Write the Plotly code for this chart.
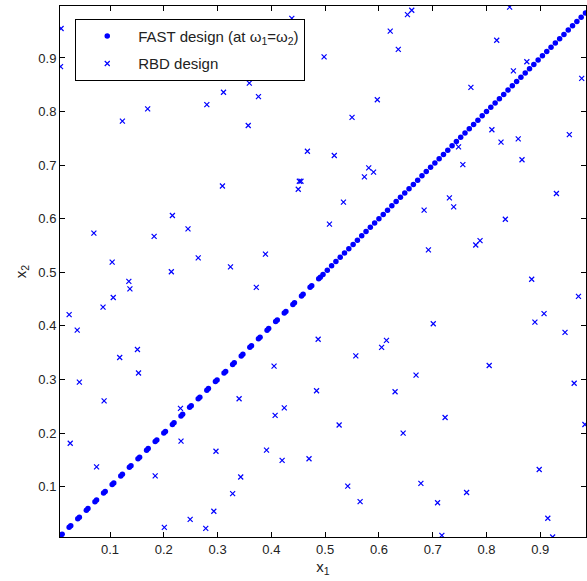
import plotly.graph_objects as go

# FAST design points (x1 = x2 since omega1 = omega2)
fast_x = [0.008, 0.011, 0.024, 0.027, 0.040, 0.043, 0.056, 0.059, 0.072, 0.075,
          0.088, 0.091, 0.104, 0.107, 0.120, 0.123, 0.136, 0.139, 0.152, 0.155,
          0.168, 0.171, 0.184, 0.187, 0.200, 0.203, 0.216, 0.219, 0.232, 0.235,
          0.248, 0.251, 0.264, 0.267, 0.280, 0.283, 0.296, 0.299, 0.312, 0.315,
          0.328, 0.331, 0.344, 0.347, 0.360, 0.363, 0.376, 0.379, 0.392, 0.395,
          0.408, 0.411, 0.424, 0.427, 0.440, 0.443, 0.456, 0.459, 0.472, 0.475,
          0.488, 0.491,
          0.496, 0.504, 0.512, 0.520, 0.528, 0.536, 0.544, 0.552, 0.560, 0.568,
          0.576, 0.584, 0.592, 0.600, 0.608, 0.616, 0.624, 0.632, 0.640, 0.648,
          0.656, 0.664, 0.672, 0.680, 0.688, 0.696, 0.704, 0.712, 0.720, 0.728,
          0.736, 0.744, 0.752, 0.760, 0.768, 0.776, 0.784, 0.792, 0.800, 0.808,
          0.816, 0.824, 0.832, 0.840, 0.848, 0.856, 0.864, 0.872, 0.880, 0.888,
          0.896, 0.904, 0.912, 0.920, 0.928, 0.936, 0.944, 0.952, 0.960, 0.968,
          0.976, 0.984]
fast_y = list(fast_x)

# RBD design points
rbd_x = [0.009, 0.008, 0.166, 0.123, 0.170, 0.280, 0.311, 0.359, 0.357, 0.376,
         0.438, 0.309, 0.450, 0.452, 0.070, 0.216, 0.245, 0.182, 0.104, 0.264,
         0.214, 0.324, 0.389, 0.135, 0.137, 0.372,
         0.106, 0.087, 0.024, 0.039, 0.043, 0.118, 0.151, 0.153, 0.089, 0.026,
         0.075, 0.184, 0.231, 0.232, 0.201, 0.249, 0.278, 0.293, 0.297, 0.328,
         0.343, 0.340, 0.391, 0.405, 0.407, 0.424, 0.420,
         0.653, 0.661, 0.843, 0.621, 0.636, 0.498, 0.819, 0.875, 0.850, 0.977,
         0.771, 0.597, 0.550, 0.810, 0.827, 0.859, 0.954, 0.748, 0.756, 0.866,
         0.467, 0.517, 0.455, 0.581, 0.590, 0.573, 0.534, 0.930, 0.508, 0.731,
         0.739, 0.684, 0.835, 0.692, 0.780, 0.788, 0.884,
         0.971, 0.907, 0.890, 0.946, 0.701, 0.487, 0.614, 0.605, 0.557, 0.805,
         0.669, 0.963, 0.484, 0.630, 0.723, 0.983, 0.526, 0.645, 0.470, 0.898,
         0.542, 0.678, 0.763, 0.565, 0.709, 0.914, 0.717, 0.923]
rbd_y = [0.955, 0.884, 0.870, 0.782, 0.805, 0.813, 0.836, 0.853, 0.774, 0.828,
         0.974, 0.661, 0.655, 0.670, 0.573, 0.606, 0.581, 0.567, 0.519, 0.527,
         0.501, 0.510, 0.534, 0.483, 0.469, 0.472,
         0.453, 0.435, 0.421, 0.392, 0.295, 0.341, 0.356, 0.312, 0.260, 0.181,
         0.137, 0.120, 0.246, 0.185, 0.024, 0.039, 0.022, 0.054, 0.166, 0.087,
         0.118, 0.264, 0.168, 0.325, 0.233, 0.247, 0.149,
         0.981, 0.989, 0.995, 0.950, 0.916, 0.902, 0.933, 0.893, 0.876, 0.862,
         0.845, 0.822, 0.789, 0.766, 0.743, 0.749, 0.757, 0.734, 0.701, 0.710,
         0.726, 0.718, 0.670, 0.695, 0.687, 0.678, 0.631, 0.647, 0.590, 0.639,
         0.622, 0.616, 0.599, 0.542, 0.551, 0.559, 0.487,
         0.455, 0.423, 0.407, 0.388, 0.404, 0.375, 0.373, 0.360, 0.344, 0.326,
         0.308, 0.293, 0.279, 0.277, 0.229, 0.216, 0.215, 0.200, 0.152, 0.132,
         0.101, 0.106, 0.089, 0.072, 0.070, 0.041, 0.009, 0.006]

x_ticks = [0.1, 0.2, 0.3, 0.4, 0.5, 0.6, 0.7, 0.8, 0.9]
y_ticks = [0.1, 0.2, 0.3, 0.4, 0.5, 0.6, 0.7, 0.8, 0.9]
tick_text = ["0.1", "0.2", "0.3", "0.4", "0.5", "0.6", "0.7", "0.8", "0.9"]

BLUE = "#0000ff"
FONT = "Liberation Sans, Arial, Helvetica, sans-serif"

fig = go.Figure()
fig.add_trace(go.Scatter(
    x=fast_x, y=fast_y, mode="markers",
    name="FAST design (at ω<sub>1</sub>=ω<sub>2</sub>)",
    legendgroup="a",
    marker=dict(symbol="circle", size=5.5, color=BLUE, line=dict(width=0)),
))
fig.add_trace(go.Scatter(
    x=rbd_x, y=rbd_y, mode="markers",
    name="RBD design",
    legendgroup="b",
    marker=dict(symbol="x-thin", size=5, color=BLUE, line=dict(width=1.2, color=BLUE)),
))

axis_common = dict(
    showgrid=False, zeroline=False, showline=True, linecolor="black", linewidth=1,
    mirror="ticks", ticks="inside", ticklen=5, tickcolor="black", tickwidth=1,
    tickfont=dict(family=FONT, size=13, color="#222"),
)

fig.update_layout(
    width=587, height=581,
    margin=dict(l=60, r=1, t=6, b=44),
    paper_bgcolor="white", plot_bgcolor="white",
    font=dict(family=FONT, size=13, color="#222"),
    xaxis=dict(range=[0.007, 0.985], tickvals=x_ticks, ticktext=tick_text,
               title=dict(text="x<sub>1</sub>", font=dict(size=15), standoff=5),
               **axis_common),
    yaxis=dict(range=[0.006, 0.997], tickvals=y_ticks, ticktext=tick_text,
               title=dict(text="x<sub>2</sub>", font=dict(size=15), standoff=8),
               **axis_common),
    legend=dict(x=0.029, y=0.976, xanchor="left", yanchor="top",
                bgcolor="white", bordercolor="black", borderwidth=1,
                font=dict(family=FONT, size=15, color="#222"),
                traceorder="grouped", tracegroupgap=5,
                itemwidth=52),
    showlegend=True,
)

fig.write_html("out.html")
